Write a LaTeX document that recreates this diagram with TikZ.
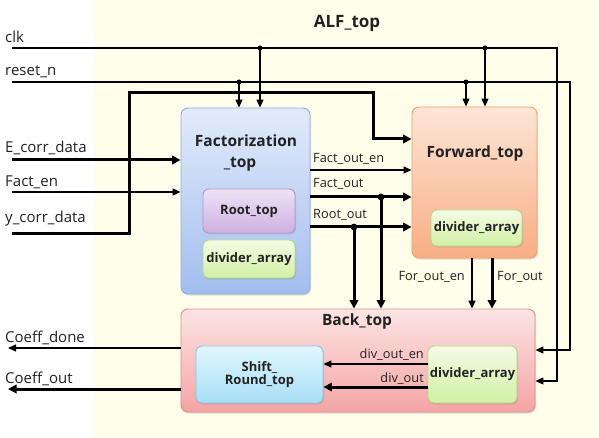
\documentclass[tikz,border=0pt]{standalone}
\usepackage{fontspec}
\setmainfont{Open Sans}
\usetikzlibrary{arrows.meta,shadows}
\definecolor{bgyel}{HTML}{FEFEEA}
\definecolor{factT}{HTML}{E2EBFA}
\definecolor{factB}{HTML}{A2BDEE}
\definecolor{factD}{HTML}{8EACE4}
\definecolor{rootT}{HTML}{EFE2F5}
\definecolor{rootB}{HTML}{CDB0E2}
\definecolor{rootD}{HTML}{B596CC}
\definecolor{grnT}{HTML}{F4FBE4}
\definecolor{grnB}{HTML}{D2F0A4}
\definecolor{grnD}{HTML}{B4D888}
\definecolor{fwdT}{HTML}{FDE5D6}
\definecolor{fwdB}{HTML}{F8AE84}
\definecolor{fwdD}{HTML}{F2A070}
\definecolor{backT}{HTML}{FDE4E4}
\definecolor{backB}{HTML}{F4A4A4}
\definecolor{backD}{HTML}{E48C8C}
\definecolor{shT}{HTML}{E2F7FE}
\definecolor{shB}{HTML}{A6DEF6}
\definecolor{shD}{HTML}{86C6E6}
\definecolor{txt}{HTML}{222222}
\tikzset{
  blk/.style={rounded corners=7pt, line width=0.9pt, inner sep=0pt,
    drop shadow={shadow xshift=1pt, shadow yshift=-1.5pt, opacity=0.25}},
  sub/.style={blk, rounded corners=6pt, font=\bfseries\fontsize{13}{15}\selectfont, text=txt, align=center},
  sig/.style={line width=1.1pt, draw=black},
  bus/.style={line width=3pt, draw=black},
  arr/.style={-{Triangle[length=8pt,width=7pt]}},
  barr/.style={-{Triangle[length=8.5pt,width=8.5pt]}},
  lab/.style={font=\fontsize{15}{17}\selectfont, text=txt, inner sep=0pt},
  slab/.style={font=\fontsize{12.8}{14}\selectfont, text=txt, inner sep=0pt},
  ttl/.style={font=\bfseries\fontsize{15.5}{18}\selectfont, text=txt, inner sep=0pt},
  dot/.style={fill=black}
}
\begin{document}
\begin{tikzpicture}[x=1pt,y=-1pt]
\useasboundingbox (0,0) rectangle (599,438);
\fill[bgyel] (93,0) rectangle (599,438);

% blocks
\node[blk, draw=factD, top color=factT, bottom color=factB, minimum width=129pt, minimum height=186pt] (fact) at (245.5,201) {};
\node[sub, draw=rootD, top color=rootT, bottom color=rootB, minimum width=92pt, minimum height=44pt] (root) at (249,211) {Root\_top};
\node[sub, draw=grnD, top color=grnT, bottom color=grnB, minimum width=92pt, minimum height=38pt] (fdiv) at (249,259) {divider\_array};
\node[blk, draw=fwdD, top color=fwdT, bottom color=fwdB, minimum width=125pt, minimum height=151pt] (fwd) at (474.5,182.5) {};
\node[sub, draw=grnD, top color=grnT, bottom color=grnB, minimum width=91pt, minimum height=36pt] (wdiv) at (476.5,228) {divider\_array};
\node[blk, draw=backD, top color=backT, bottom color=backB, minimum width=354pt, minimum height=103pt] (back) at (358,360.5) {};
\node[sub, draw=shD, top color=shT, bottom color=shB, minimum width=127pt, minimum height=57pt] (shift) at (259.5,374.5) {Shift\_\\[-2pt]Round\_top};
\node[sub, draw=grnD, top color=grnT, bottom color=grnB, minimum width=89pt, minimum height=57pt] (bdiv) at (472.5,374.5) {divider\_array};

% titles
\node[ttl, font=\bfseries\fontsize{17}{20}\selectfont, anchor=base] (alf) at (347,28) {ALF\_top};
\node[ttl, anchor=base] (factT1) at (246,147) {Factorization};
\node[ttl, anchor=base] (factT2) at (240,168) {\_top};
\node[ttl, anchor=base] (fwdT) at (475,158) {Forward\_top};
\node[ttl, anchor=base] (backT) at (357,325) {Back\_top};

% outer labels
\node[lab, anchor=base west] (lclk) at (5,43) {clk};
\node[lab, anchor=base west] (lrst) at (5,76) {reset\_n};
\node[lab, anchor=base west] (le) at (5,153) {E\_corr\_data};
\node[lab, anchor=base west] (lfe) at (5,187) {Fact\_en};
\node[lab, anchor=base west] (ly) at (5,223) {y\_corr\_data};
\node[lab, anchor=base west] (lcd) at (5,342) {Coeff\_done};
\node[lab, anchor=base west] (lco) at (5,383) {Coeff\_out};

% inner labels
\node[slab, anchor=base west] (lfoe) at (313,163) {Fact\_out\_en};
\node[slab, anchor=base west] (lfo) at (313,188) {Fact\_out};
\node[slab, anchor=base west] (lro) at (313,219) {Root\_out};
\node[slab, anchor=base east] (lwoe) at (465,280) {For\_out\_en};
\node[slab, anchor=base west] (lwo) at (497,280) {For\_out};
\node[slab, anchor=base east] (ldoe) at (424,358) {div\_out\_en};
\node[slab, anchor=base east] (ldo) at (424,382) {div\_out};

% coordinates
\coordinate (clkIn) at (12,48);
\coordinate (clkC) at (557,48);
\coordinate (clkD) at (557,381);
\coordinate (rstIn) at (12,82);
\coordinate (rstC) at (570,82);
\coordinate (rstD) at (570,350);
\coordinate (clkF) at (260,48);
\coordinate (rstF) at (239,82);
\coordinate (clkW) at (485,48);
\coordinate (rstW) at (466,82);
\coordinate (yIn) at (12,234);
\coordinate (yA) at (129,234);
\coordinate (yB) at (129,93);
\coordinate (yC) at (373,93);
\coordinate (yD) at (373,139);
\coordinate (eIn) at (12,160);
\coordinate (feIn) at (12,192);
\coordinate (foe) at (310,170);
\coordinate (fo) at (310,197);
\coordinate (ro) at (310,227);
\coordinate (foT) at (381,197);
\coordinate (roT) at (354,227);
\coordinate (woe) at (472,258);
\coordinate (wo) at (492,258);
\coordinate (doe) at (428,364);
\coordinate (do) at (428,387);
\coordinate (cdOut) at (8,348);
\coordinate (coOut) at (8,389);

% clock and reset
\draw[sig, arr] (clkIn) -- (clkC) -- (clkD) -- (back.east |- clkD);
\draw[sig, arr] (rstIn) -- (rstC) -- (rstD) -- (back.east |- rstD);
\draw[sig, arr] (clkF) -- (clkF |- fact.north);
\draw[sig, arr] (rstF) -- (rstF |- fact.north);
\draw[sig, arr] (clkW) -- (clkW |- fwd.north);
\draw[sig, arr] (rstW) -- (rstW |- fwd.north);
\fill[dot] (clkF) circle (2.5pt) (rstF) circle (2.5pt) (clkW) circle (2.5pt) (rstW) circle (2.5pt);

% inputs
\draw[bus, barr] (yIn) -- (yA) -- (yB) -- (yC) -- (yD) -- (fwd.west |- yD);
\draw[bus, barr] (eIn) -- (fact.west |- eIn);
\draw[sig, arr] (feIn) -- (fact.west |- feIn);

% factorization outputs
\draw[sig, arr] (fact.east |- foe) -- (fwd.west |- foe);
\draw[bus, barr] (fact.east |- fo) -- (fwd.west |- fo);
\draw[bus, barr] (fact.east |- ro) -- (fwd.west |- ro);
\draw[bus, barr] (foT) -- (foT |- back.north);
\draw[bus, barr] (roT) -- (roT |- back.north);
\fill[dot] (foT) circle (3.4pt) (roT) circle (3.4pt);

% forward outputs
\draw[sig, arr] (fwd.south -| woe) -- (back.north -| woe);
\draw[bus, barr] (fwd.south -| wo) -- (back.north -| wo);

% back internals
\draw[sig, arr] (bdiv.west |- doe) -- (shift.east |- doe);
\draw[bus, barr] (bdiv.west |- do) -- (shift.east |- do);

% outputs
\draw[sig, arr] (back.west |- cdOut) -- (cdOut);
\draw[bus, barr] (back.west |- coOut) -- (coOut);
\end{tikzpicture}
\end{document}
